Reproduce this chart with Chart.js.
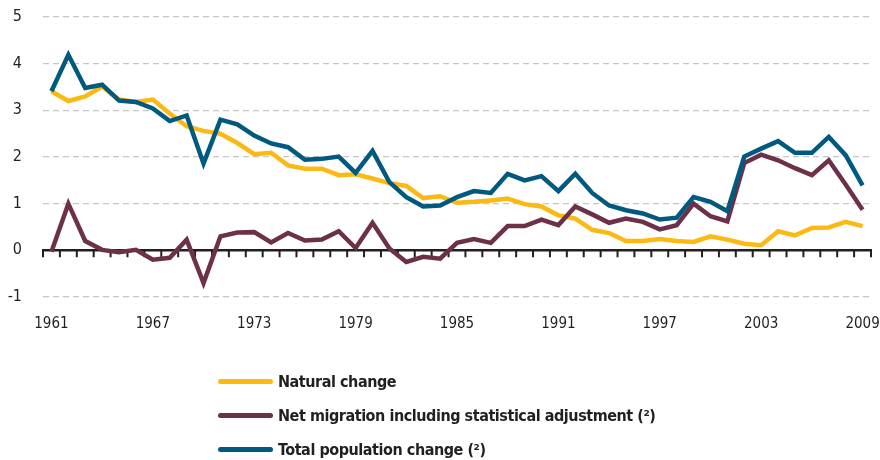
<!DOCTYPE html>
<html>
<head>
<meta charset="utf-8">
<script src="https://cdn.jsdelivr.net/npm/chart.js@4.4.0/dist/chart.umd.min.js"></script>
<style>
  html, body { margin: 0; padding: 0; background: #ffffff; }
  #wrap { position: relative; width: 880px; height: 460px; }
  #c { position: absolute; left: 0; top: 0; }
  .lg { position: absolute; left: 218px; height: 20px; display: flex; align-items: center;
        font-family: 'Liberation Sans Narrow', 'DejaVu Sans Condensed', sans-serif;
        font-weight: bold; font-size: 16px; letter-spacing: -0.45px; color: #231f20; white-space: nowrap; }
  .lg .sw { width: 55px; height: 5px; border-radius: 3px; margin-right: 5px; }
</style>
</head>
<body>
<div id="wrap">
  <canvas id="c" width="880" height="460"></canvas>
  <div id="legend"></div>
</div>
<script>
const years = [];
for (let yr = 1961; yr <= 2009; yr++) years.push(String(yr));

const naturalChange = [3.41,3.20,3.30,3.51,3.23,3.18,3.23,2.93,2.66,2.56,
  2.50,2.30,2.06,2.09,1.82,1.75,1.75,1.61,1.63,1.54,
  1.44,1.38,1.12,1.16,1.02,1.04,1.07,1.11,0.99,0.94,
  0.75,0.68,0.44,0.37,0.20,0.20,0.24,0.20,0.18,0.30,
  0.23,0.14,0.11,0.41,0.32,0.48,0.49,0.61,0.52];

const netMigration = [-0.03,1.00,0.20,0.01,-0.04,0.01,-0.20,-0.16,0.23,-0.70,
  0.30,0.38,0.39,0.17,0.37,0.21,0.23,0.41,0.05,0.59,
  0.04,-0.25,-0.14,-0.18,0.16,0.24,0.16,0.52,0.52,0.66,
  0.54,0.94,0.77,0.59,0.68,0.61,0.45,0.54,1.00,0.73,
  0.62,1.87,2.05,1.93,1.76,1.61,1.93,1.41,0.87];

const totalChange = [3.41,4.19,3.48,3.55,3.21,3.18,3.04,2.77,2.89,1.86,
  2.80,2.70,2.46,2.29,2.21,1.94,1.96,2.01,1.66,2.13,
  1.46,1.14,0.94,0.96,1.14,1.27,1.23,1.64,1.50,1.59,
  1.27,1.64,1.23,0.96,0.86,0.79,0.66,0.70,1.14,1.04,
  0.84,2.01,2.18,2.34,2.09,2.09,2.43,2.04,1.39];

const seriesNames = ['Natural change', 'Net migration including statistical adjustment (\u00B2)', 'Total population change (\u00B2)'];
const seriesColors = ['#fdb913', '#6d3049', '#00597f'];
const yTicks = [-1, 0, 1, 2, 3, 4, 5];

const fontFam = "'Liberation Sans Narrow', 'DejaVu Sans Condensed', sans-serif";

const zeroAxis = {
  id: 'zeroAxis',
  beforeDatasetsDraw(chart) {
    const { ctx, chartArea, scales: { x, y } } = chart;
    const y0 = y.getPixelForValue(0);
    const step = x.getPixelForValue(1) - x.getPixelForValue(0);
    ctx.save();
    ctx.strokeStyle = '#231f20';
    ctx.lineWidth = 2.5;
    ctx.beginPath();
    ctx.moveTo(chartArea.left - 1, y0);
    ctx.lineTo(chartArea.right + 1, y0);
    ctx.stroke();
    ctx.lineWidth = 2;
    ctx.beginPath();
    for (let i = 0; i <= years.length; i++) {
      const px = x.getPixelForValue(i) - step / 2;
      ctx.moveTo(px, y0);
      ctx.lineTo(px, y0 + 7);
    }
    ctx.stroke();
    ctx.restore();
  }
};

const datasets = [naturalChange, netMigration, totalChange].map((d, i) => ({
  label: seriesNames[i],
  data: d,
  borderColor: seriesColors[i],
  backgroundColor: seriesColors[i],
  borderWidth: 4.5,
  pointRadius: 0,
  tension: 0,
  borderJoinStyle: 'miter',
  order: 2 - i
}));

new Chart(document.getElementById('c'), {
  type: 'line',
  data: { labels: years, datasets },
  options: {
    responsive: false,
    animation: false,
    events: [],
    layout: { padding: { left: 0, right: 9, top: 17, bottom: 123 } },
    plugins: { legend: { display: false }, tooltip: { enabled: false } },
    scales: {
      x: {
        offset: true,
        grid: { display: false, drawTicks: false, offset: true },
        border: { display: false },
        ticks: {
          autoSkip: false, maxRotation: 0, minRotation: 0, padding: 18,
          color: '#231f20', font: { family: fontFam, size: 15 },
          callback: function(v, i) { return i % 6 === 0 ? years[i] : ''; }
        },
        afterFit: s => { s.height = 40; s.paddingLeft = 0; s.paddingRight = 0; }
      },
      y: {
        min: -1, max: 5,
        afterBuildTicks: s => { s.ticks = yTicks.map(v => ({ value: v })); },
        grid: {
          drawTicks: false,
          color: c => (c.tick && c.tick.value === 0) ? 'rgba(0,0,0,0)' : '#c6c6c6',
          lineWidth: 1.3
        },
        border: { display: false, dash: [6, 4] },
        ticks: { padding: 21, color: '#231f20', font: { family: fontFam, size: 16 } },
        afterFit: s => { s.width = 43; s.paddingTop = 0; s.paddingBottom = 0; }
      }
    }
  },
  plugins: [zeroAxis]
});

const legendTops = [371, 405, 439];
const lg = document.getElementById('legend');
seriesNames.forEach((n, i) => {
  const row = document.createElement('div');
  row.className = 'lg';
  row.style.top = legendTops[i] + 'px';
  const sw = document.createElement('span');
  sw.className = 'sw';
  sw.style.background = seriesColors[i];
  const tx = document.createElement('span');
  tx.textContent = n;
  row.appendChild(sw);
  row.appendChild(tx);
  lg.appendChild(row);
});
</script>
</body>
</html>
